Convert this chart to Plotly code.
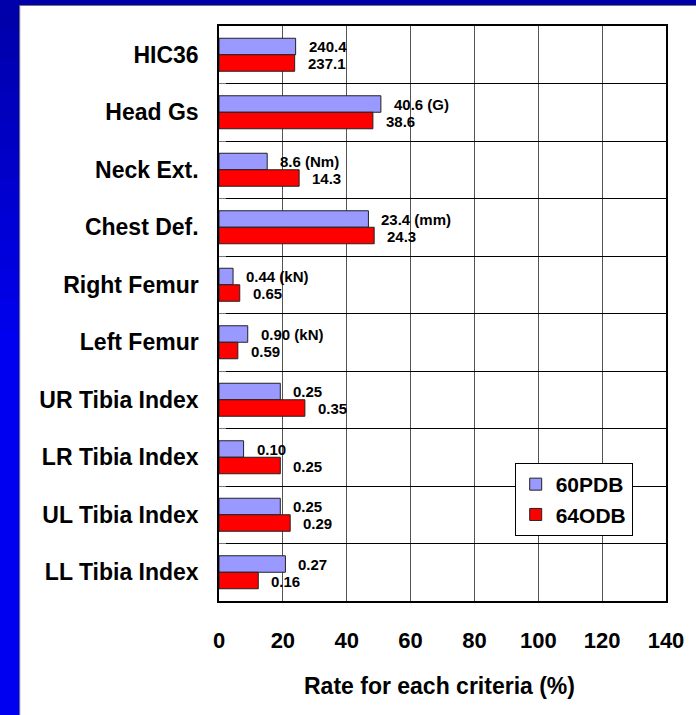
import plotly.graph_objects as go

categories = ["HIC36", "Head Gs", "Neck Ext.", "Chest Def.", "Right Femur",
              "Left Femur", "UR Tibia Index", "LR Tibia Index", "UL Tibia Index",
              "LL Tibia Index"]
pdb60 = [24.0, 50.7, 15.1, 46.8, 4.4, 9.0, 19.2, 7.7, 19.2, 20.8]
odb64 = [23.7, 48.2, 25.1, 48.6, 6.5, 5.9, 26.9, 19.2, 22.3, 12.3]
labels60 = ["240.4", "40.6 (G)", "8.6 (Nm)", "23.4 (mm)", "0.44 (kN)", "0.90 (kN)",
            "0.25", "0.10", "0.25", "0.27"]
labels64 = ["237.1", "38.6", "14.3", "24.3", "0.65", "0.59", "0.35", "0.25",
            "0.29", "0.16"]
x_ticks = [0, 20, 40, 60, 80, 100, 120, 140]

FONT = "Arial, Liberation Sans, sans-serif"
W, H = 696, 715
L, R, T, B = 219, 25, 26, 114
PW, PH = W - L - R, H - T - B


def px_x(p):
    return (p - L) / PW


def px_y(p):
    return (H - B - p) / PH


fig = go.Figure()
fig.add_trace(go.Bar(y=categories, x=pdb60, name="60PDB", orientation="h",
                     marker=dict(color="#9999FF", line=dict(color="#222222", width=1))))
fig.add_trace(go.Bar(y=categories, x=odb64, name="64ODB", orientation="h",
                     marker=dict(color="#FF0000", line=dict(color="#222222", width=1))))

annotations = []
for c, v, t in zip(categories, pdb60, labels60):
    annotations.append(dict(x=v, y=c, text=t, showarrow=False, xanchor="left",
                            yanchor="middle", xshift=11, yshift=8,
                            font=dict(family=FONT, size=15, color="black", weight="bold")))
for c, v, t in zip(categories, odb64, labels64):
    annotations.append(dict(x=v, y=c, text=t, showarrow=False, xanchor="left",
                            yanchor="middle", xshift=11, yshift=-9,
                            font=dict(family=FONT, size=15, color="black", weight="bold")))
annotations.append(dict(x=px_x(442), y=px_y(686), xref="paper", yref="paper",
                        text="Rate for each criteria (%)", showarrow=False,
                        xanchor="center", yanchor="middle",
                        font=dict(family=FONT, size=23, color="black", weight="bold")))

shapes = []
# left band gradient (dark navy at top to bright blue)
n = 12
for i in range(n):
    f = i / (n - 1)
    b = int(0xAA + (0xF0 - 0xAA) * f)
    y0p = i * 30
    shapes.append(dict(type="rect", xref="paper", yref="paper", layer="below",
                       x0=px_x(-5), x1=px_x(19), y0=px_y(y0p + 31 if i < n - 1 else 800),
                       y1=px_y(y0p), fillcolor=f"rgb(0,0,{b})", line=dict(width=0)))
# top band
shapes.append(dict(type="rect", xref="paper", yref="paper", layer="below",
                   x0=px_x(-5), x1=px_x(710), y0=px_y(6), y1=px_y(-5),
                   fillcolor="#0000AA", line=dict(width=0)))
# white panel
shapes.append(dict(type="rect", xref="paper", yref="paper", layer="below",
                   x0=px_x(17.5), x1=px_x(720), y0=px_y(730), y1=px_y(5.5),
                   fillcolor="white", line=dict(color="#777777", width=1)))

fig.update_layout(
    width=W, height=H, autosize=False,
    margin=dict(l=L, r=R, t=T, b=B, pad=0),
    paper_bgcolor="#0000EE", plot_bgcolor="white",
    barmode="group", bargap=0.426, bargroupgap=0,
    font=dict(family=FONT, color="black"),
    showlegend=True,
    legend=dict(x=px_x(518), y=px_y(463), xanchor="left", yanchor="top",
                bgcolor="white", bordercolor="black", borderwidth=1,
                font=dict(family=FONT, size=21, color="black", weight="bold"),
                tracegroupgap=0, itemwidth=30),
    annotations=annotations, shapes=shapes,
)
fig.update_xaxes(range=[0, 140], tickvals=x_ticks, ticktext=[str(v) for v in x_ticks],
                 showgrid=True, gridcolor="#555555", gridwidth=1,
                 showline=True, linecolor="black", linewidth=1.5, mirror=True,
                 ticks="", ticklabelstandoff=19, zeroline=False,
                 tickfont=dict(family=FONT, size=22, color="black", weight="bold"))
fig.update_yaxes(autorange="reversed", type="category", tickson="boundaries",
                 showgrid=True, gridcolor="black", gridwidth=1,
                 showline=True, linecolor="black", linewidth=1.5, mirror=True,
                 ticks="inside", ticklen=7, tickcolor="#777777",
                 ticklabelstandoff=14,
                 tickfont=dict(family=FONT, size=23, color="black", weight="bold"))

fig.write_html("out.html", config={"displayModeBar": False},
               post_script="document.body.style.margin='0';document.body.style.padding='0';")
